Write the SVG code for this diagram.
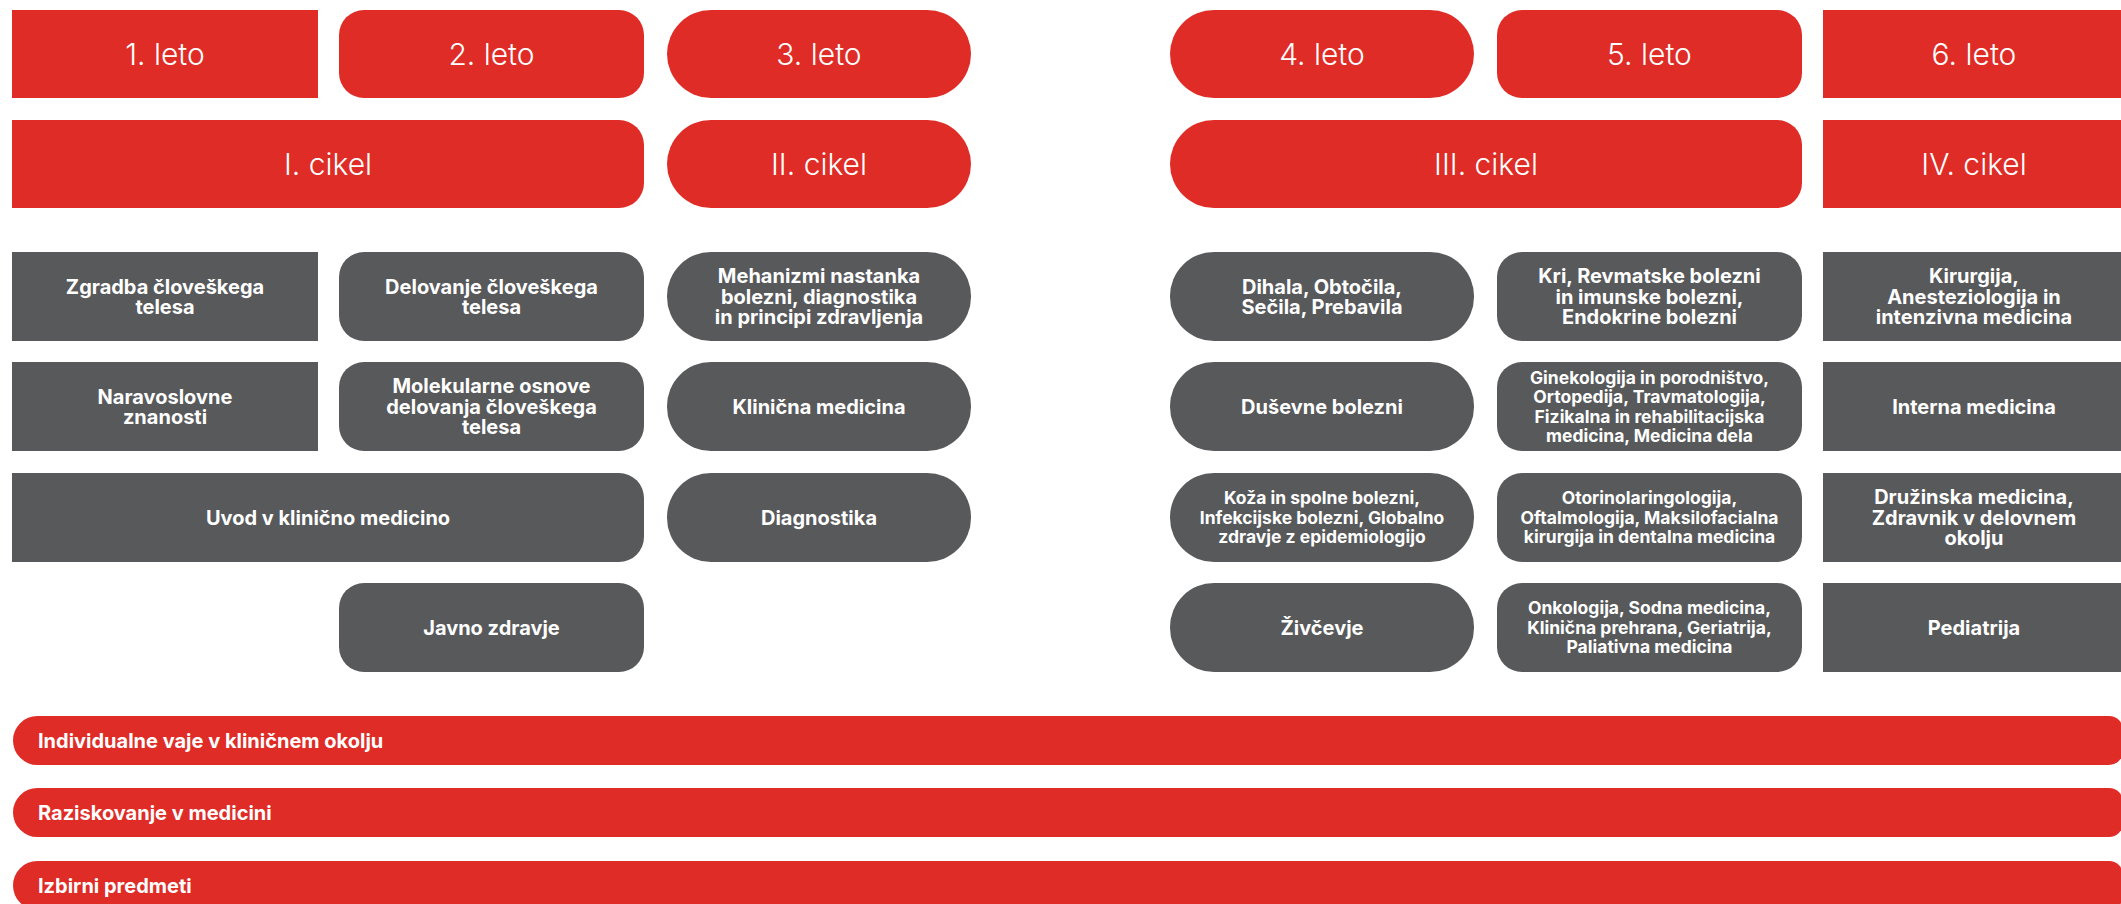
<svg xmlns="http://www.w3.org/2000/svg" width="2121" height="904" viewBox="0 0 2121 904">
<style>
.red{fill:#E02C26}
.gray{fill:#58595B}
.hd{font-family:Inter,"Open Sans","Liberation Sans",sans-serif;font-weight:300;font-size:30px;fill:#fff;text-anchor:middle}
.t{font-family:Inter,"Open Sans","Liberation Sans",sans-serif;font-weight:700;font-size:20px;fill:#fff;text-anchor:middle}
.s{font-family:Inter,"Open Sans","Liberation Sans",sans-serif;font-weight:700;font-size:17.5px;fill:#fff;text-anchor:middle}
.b{font-family:Inter,"Open Sans","Liberation Sans",sans-serif;font-weight:700;font-size:20px;fill:#fff}
</style>
<rect width="2121" height="904" fill="#fff"/>
<g id="connectors"/>
<!-- year headers -->
<g id="leto1"><rect class="red" x="12" y="10" width="306" height="88"/><text class="hd" x="165" y="65">1. leto</text></g>
<g id="leto2"><rect class="red" x="339" y="10" width="305" height="88" rx="25"/><text class="hd" x="491.5" y="65">2. leto</text></g>
<g id="leto3"><rect class="red" x="667" y="10" width="304" height="88" rx="44"/><text class="hd" x="819" y="65">3. leto</text></g>
<g id="leto4"><rect class="red" x="1170" y="10" width="304" height="88" rx="44"/><text class="hd" x="1322" y="65">4. leto</text></g>
<g id="leto5"><rect class="red" x="1497" y="10" width="305" height="88" rx="25"/><text class="hd" x="1649.5" y="65">5. leto</text></g>
<g id="leto6"><rect class="red" x="1823" y="10" width="300" height="88"/><text class="hd" x="1974" y="65">6. leto</text></g>
<!-- cycles -->
<g id="cikel1"><path class="red" d="M12,120 H619 A25,25 0 0 1 644,145 V183 A25,25 0 0 1 619,208 H12 Z"/><text class="hd" x="328" y="175">I. cikel</text></g>
<g id="cikel2"><rect class="red" x="667" y="120" width="304" height="88" rx="44"/><text class="hd" x="819" y="175">II. cikel</text></g>
<g id="cikel3"><path class="red" d="M1214,120 H1777 A25,25 0 0 1 1802,145 V183 A25,25 0 0 1 1777,208 H1214 A44,44 0 0 1 1214,120 Z"/><text class="hd" x="1486" y="175">III. cikel</text></g>
<g id="cikel4"><rect class="red" x="1823" y="120" width="300" height="88"/><text class="hd" x="1974" y="175">IV. cikel</text></g>
<!-- column 1 -->
<g id="zgradba"><rect class="gray" x="12" y="252" width="306" height="89"/><text class="t"><tspan x="165" y="293.5">Zgradba človeškega</tspan><tspan x="165" y="314">telesa</tspan></text></g>
<g id="naravoslovne"><rect class="gray" x="12" y="362" width="306" height="89"/><text class="t"><tspan x="165" y="403.5">Naravoslovne</tspan><tspan x="165" y="424">znanosti</tspan></text></g>
<g id="uvod"><path class="gray" d="M12,473 H619 A25,25 0 0 1 644,498 V537 A25,25 0 0 1 619,562 H12 Z"/><text class="t" x="328" y="524.5">Uvod v klinično medicino</text></g>
<!-- column 2 -->
<g id="delovanje"><rect class="gray" x="339" y="252" width="305" height="89" rx="25"/><text class="t"><tspan x="491.5" y="293.5">Delovanje človeškega</tspan><tspan x="491.5" y="314">telesa</tspan></text></g>
<g id="molekularne"><rect class="gray" x="339" y="362" width="305" height="89" rx="25"/><text class="t"><tspan x="491.5" y="393.3">Molekularne osnove</tspan><tspan x="491.5" y="413.8">delovanja človeškega</tspan><tspan x="491.5" y="434.3">telesa</tspan></text></g>
<g id="javno"><rect class="gray" x="339" y="583" width="305" height="89" rx="25"/><text class="t" x="491.5" y="634.8">Javno zdravje</text></g>
<!-- column 3 -->
<g id="mehanizmi"><rect class="gray" x="667" y="252" width="304" height="89" rx="44"/><text class="t"><tspan x="819" y="283.3">Mehanizmi nastanka</tspan><tspan x="819" y="303.8">bolezni, diagnostika</tspan><tspan x="819" y="324.3">in principi zdravljenja</tspan></text></g>
<g id="klinicna"><rect class="gray" x="667" y="362" width="304" height="89" rx="44"/><text class="t" x="819" y="413.8">Klinična medicina</text></g>
<g id="diagnostika"><rect class="gray" x="667" y="473" width="304" height="89" rx="44"/><text class="t" x="819" y="524.8">Diagnostika</text></g>
<!-- column 4 -->
<g id="dihala"><rect class="gray" x="1170" y="252" width="304" height="89" rx="44"/><text class="t"><tspan x="1322" y="293.5">Dihala, Obtočila,</tspan><tspan x="1322" y="314">Sečila, Prebavila</tspan></text></g>
<g id="dusevne"><rect class="gray" x="1170" y="362" width="304" height="89" rx="44"/><text class="t" x="1322" y="413.8">Duševne bolezni</text></g>
<g id="koza"><rect class="gray" x="1170" y="473" width="304" height="89" rx="44"/><text class="s"><tspan x="1322" y="504.4">Koža in spolne bolezni,</tspan><tspan x="1322" y="523.9">Infekcijske bolezni, Globalno</tspan><tspan x="1322" y="543.4">zdravje z epidemiologijo</tspan></text></g>
<g id="zivcevje"><rect class="gray" x="1170" y="583" width="304" height="89" rx="44"/><text class="t" x="1322" y="634.8">Živčevje</text></g>
<!-- column 5 -->
<g id="kri"><rect class="gray" x="1497" y="252" width="305" height="89" rx="25"/><text class="t"><tspan x="1649.5" y="283.3">Kri, Revmatske bolezni</tspan><tspan x="1649.5" y="303.8">in imunske bolezni,</tspan><tspan x="1649.5" y="324.3">Endokrine bolezni</tspan></text></g>
<g id="ginekologija"><rect class="gray" x="1497" y="362" width="305" height="89" rx="25"/><text class="s"><tspan x="1649.5" y="383.7">Ginekologija in porodništvo,</tspan><tspan x="1649.5" y="403.2">Ortopedija, Travmatologija,</tspan><tspan x="1649.5" y="422.7">Fizikalna in rehabilitacijska</tspan><tspan x="1649.5" y="442.2">medicina, Medicina dela</tspan></text></g>
<g id="otorino"><rect class="gray" x="1497" y="473" width="305" height="89" rx="25"/><text class="s"><tspan x="1649.5" y="504.4">Otorinolaringologija,</tspan><tspan x="1649.5" y="523.9">Oftalmologija, Maksilofacialna</tspan><tspan x="1649.5" y="543.4">kirurgija in dentalna medicina</tspan></text></g>
<g id="onkologija"><rect class="gray" x="1497" y="583" width="305" height="89" rx="25"/><text class="s"><tspan x="1649.5" y="614.4">Onkologija, Sodna medicina,</tspan><tspan x="1649.5" y="633.9">Klinična prehrana, Geriatrija,</tspan><tspan x="1649.5" y="653.4">Paliativna medicina</tspan></text></g>
<!-- column 6 -->
<g id="kirurgija"><rect class="gray" x="1823" y="252" width="300" height="89"/><text class="t"><tspan x="1974" y="283.3">Kirurgija,</tspan><tspan x="1974" y="303.8">Anesteziologija in</tspan><tspan x="1974" y="324.3">intenzivna medicina</tspan></text></g>
<g id="interna"><rect class="gray" x="1823" y="362" width="300" height="89"/><text class="t" x="1974" y="413.8">Interna medicina</text></g>
<g id="druzinska"><rect class="gray" x="1823" y="473" width="300" height="89"/><text class="t"><tspan x="1974" y="504.3">Družinska medicina,</tspan><tspan x="1974" y="524.8">Zdravnik v delovnem</tspan><tspan x="1974" y="545.3">okolju</tspan></text></g>
<g id="pediatrija"><rect class="gray" x="1823" y="583" width="300" height="89"/><text class="t" x="1974" y="634.8">Pediatrija</text></g>
<!-- bottom bars -->
<g id="individualne"><path class="red" d="M37.5,716 H2109 A14,14 0 0 1 2123,730 V751 A14,14 0 0 1 2109,765 H37.5 A24.5,24.5 0 0 1 37.5,716 Z"/><text class="b" x="38" y="748">Individualne vaje v kliničnem okolju</text></g>
<g id="raziskovanje"><path class="red" d="M37.5,788 H2109 A14,14 0 0 1 2123,802 V823 A14,14 0 0 1 2109,837 H37.5 A24.5,24.5 0 0 1 37.5,788 Z"/><text class="b" x="38" y="820">Raziskovanje v medicini</text></g>
<g id="izbirni"><path class="red" d="M37.5,861 H2109 A14,14 0 0 1 2123,875 V896 A14,14 0 0 1 2109,910 H37.5 A24.5,24.5 0 0 1 37.5,861 Z"/><text class="b" x="38" y="893">Izbirni predmeti</text></g>
</svg>
